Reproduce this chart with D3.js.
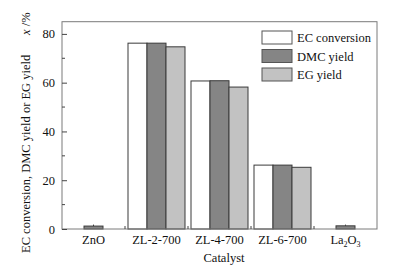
<!DOCTYPE html>
<html><head><meta charset="utf-8">
<script src="https://cdn.jsdelivr.net/npm/d3@7"></script>
<style>body{margin:0;background:#fff}svg{display:block}text{font-family:"Liberation Serif","Times New Roman",serif;fill:#111}</style>
</head><body><svg id="c" width="398" height="275"></svg>
<script>
const categories = ["ZnO", "ZL-2-700", "ZL-4-700", "ZL-6-700", "La2O3"];
const series = ["EC conversion", "DMC yield", "EG yield"];
const ecConversion = [0, 76.2, 60.7, 26.2, 0];
const dmcYield = [1.2, 76.2, 60.8, 26.2, 1.3];
const egYield = [0, 74.7, 58.2, 25.3, 0];
const dmcError = [0.6, 0, 0, 0, 0.5];
const yMajorTicks = [0, 20, 40, 60, 80];
const yMinorTicks = [10, 30, 50, 70];
const colors = ["#ffffff", "#858585", "#c2c2c2"];

const values = [ecConversion, dmcYield, egYield];
const svg = d3.select("#c");
const L = 62, R = 377, T = 21.7, B = 229;
const x = d3.scaleBand().domain(categories).range([L, R]);
const xs = d3.scaleBand().domain(series).range([0, 57]);
const y = d3.scaleLinear().domain([0, 85]).range([B, T]);

// bars
categories.forEach((c, i) => {
  const gx = x(c) + (x.bandwidth() - 57) / 2;
  series.forEach((s, j) => {
    const v = values[j][i];
    if (v <= 0) return;
    svg.append("rect").attr("x", gx + xs(s)).attr("y", y(v))
      .attr("width", xs.bandwidth()).attr("height", y(0) - y(v))
      .attr("fill", colors[j]).attr("stroke", "#3a3a3a").attr("stroke-width", 1);
  });
  const e = dmcError[i];
  if (e > 0) {
    const cx = gx + xs("DMC yield") + xs.bandwidth() / 2;
    svg.append("line").attr("x1", cx).attr("x2", cx)
      .attr("y1", y(dmcYield[i])).attr("y2", y(dmcYield[i] + e))
      .attr("stroke", "#3a3a3a").attr("stroke-width", 1);
  }
});

// frame
svg.append("rect").attr("x", L).attr("y", T).attr("width", R - L).attr("height", B - T)
  .attr("fill", "none").attr("stroke", "#7a7a7a").attr("stroke-width", 1);

// y axis
const yAxis = d3.axisLeft(y).tickValues(yMajorTicks).tickSizeInner(-5).tickSizeOuter(0).tickPadding(6);
const gy = svg.append("g").attr("transform", `translate(${L},0)`).call(yAxis);
gy.select(".domain").remove();
gy.selectAll(".tick line").attr("stroke", "#444");
gy.selectAll(".tick text").attr("font-size", "12.5px").attr("font-family", "Liberation Serif").attr("fill", "#111").attr("x", -7);
svg.selectAll(".minor").data(yMinorTicks).enter().append("line")
  .attr("x1", L).attr("x2", L + 3).attr("y1", d => y(d)).attr("y2", d => y(d))
  .attr("stroke", "#444");

// x axis
const xAxis = d3.axisBottom(x).tickSize(0).tickPadding(8).tickFormat(() => "");
const gxA = svg.append("g").attr("transform", `translate(0,${B})`).call(xAxis);
gxA.select(".domain").remove();
categories.forEach(c => {
  const t = svg.append("text").attr("x", x(c) + x.bandwidth() / 2).attr("y", 243.5)
    .attr("text-anchor", "middle").attr("font-size", "12.5px");
  if (c === "La2O3") {
    t.append("tspan").text("La");
    t.append("tspan").text("2").attr("font-size", "8px").attr("dy", 3);
    t.append("tspan").text("O").attr("dy", -3);
    t.append("tspan").text("3").attr("font-size", "8px").attr("dy", 3);
  } else t.text(c);
});
// boundary ticks
categories.slice(1).forEach(c => {
  svg.append("line").attr("x1", x(c)).attr("x2", x(c)).attr("y1", B).attr("y2", B - 3).attr("stroke", "#444");
});

// axis titles
svg.append("text").attr("x", 224).attr("y", 262).attr("text-anchor", "middle")
  .attr("font-size", "12.5px").text("Catalyst");
svg.append("text").attr("transform", "translate(30,253) rotate(-90)")
  .attr("font-size", "12.5px").text("EC conversion, DMC yield or EG yield");
const xl = svg.append("text").attr("transform", "translate(30,35) rotate(-90)").attr("font-size", "12.5px");
xl.append("tspan").text("x").attr("font-style", "italic");
xl.append("tspan").text(" /%");

// legend
series.forEach((s, j) => {
  const yy = 31 + j * 18.5;
  svg.append("rect").attr("x", 262).attr("y", yy).attr("width", 30).attr("height", 13)
    .attr("fill", colors[j]).attr("stroke", "#555");
  svg.append("text").attr("x", 297).attr("y", yy + 11).attr("font-size", "12.5px").text(s);
});
</script></body></html>
